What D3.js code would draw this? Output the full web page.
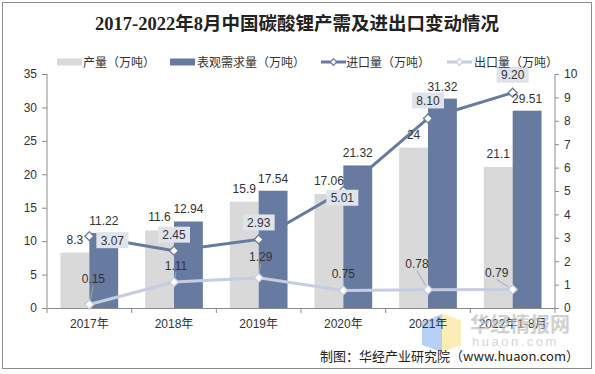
<!DOCTYPE html>
<html>
<head>
<meta charset="utf-8">
<script src="https://cdn.jsdelivr.net/npm/d3@7/dist/d3.min.js"></script>
<style>
  html, body { margin: 0; padding: 0; background: #fff; }
  svg { display: block; font-family: "Liberation Sans", Arial, "Noto Sans CJK SC", sans-serif; }
</style>
</head>
<body>
<svg id="chart" width="595" height="374"></svg>
<script>
// chart data
var years = ['2017年', '2018年', '2019年', '2020年', '2021年', '2022年1-8月'];
var production = [8.3, 11.6, 15.9, 17.06, 24, 21.1];
var demand = [11.22, 12.94, 17.54, 21.32, 31.32, 29.51];
var imports = [3.07, 2.45, 2.93, 5.01, 8.10, 9.20];
var exportsQty = [0.15, 1.11, 1.29, 0.75, 0.78, 0.79];
var leftTicks = [0, 5, 10, 15, 20, 25, 30, 35];
var rightTicks = [0, 1, 2, 3, 4, 5, 6, 7, 8, 9, 10];
var legendNames = ['产量（万吨）', '表观需求量（万吨）', '进口量（万吨）', '出口量（万吨）'];

// label nudges (pixels), as placed in the original
var importLabelShift = [[23, 4], [0, -16], [0, -17], [-1, 7], [0, -18], [0, -18]];
var exportLabelShift = [[4, -26], [2, -17], [2, -21], [0, -17], [-11, -26], [-16, -17]];

var C = {
    prod: '#d9d9d9',
    demand: '#677aa0',
    imp: '#677aa0',
    exp: '#c6cde0',
    axis: '#8c8c8c',
    text: '#333'
};

var svg = d3.select('#chart');
var plot = { left: 47, right: 555, top: 74, bottom: 308 };

// frame
svg.append('rect')
    .attr('x', 2.5).attr('y', 2.5)
    .attr('width', 589).attr('height', 366)
    .attr('fill', '#fff')
    .attr('stroke', '#8c8c8c');

svg.append('text')
    .attr('x', 297).attr('y', 29.5)
    .attr('text-anchor', 'middle')
    .attr('font-family', '"Liberation Serif", "Noto Sans CJK SC", serif')
    .attr('font-weight', 'bold')
    .attr('font-size', 18.5)
    .attr('fill', '#222')
    .text('2017-2022年8月中国碳酸锂产需及进出口变动情况');

var x0 = d3.scaleBand().domain(years).range([plot.left, plot.right]).padding(0);
var x1 = d3.scaleBand().domain(['prod', 'demand'])
    .range([0, x0.bandwidth()]).paddingInner(0).paddingOuter(0.467);
var yL = d3.scaleLinear().domain([0, 35]).range([plot.bottom, plot.top]);
var yR = d3.scaleLinear().domain([0, 10]).range([plot.bottom, plot.top]);
var cx = function (i) { return x0(years[i]) + x0.bandwidth() / 2; };

// watermark logo (behind everything)
var wm = svg.append('g').attr('class', 'watermark');
wm.append('polygon')
    .attr('points', '422,322 442,314 442,352 422,345')
    .attr('fill', '#a9c9f3').attr('opacity', 0.85);
wm.append('polygon')
    .attr('points', '442,314 461,320 461,345 442,352')
    .attr('fill', '#fbeaa9').attr('opacity', 0.85);

// bars
var groups = svg.append('g').selectAll('g')
    .data(years)
    .join('g')
    .attr('transform', function (d) { return 'translate(' + x0(d) + ',0)'; });

groups.append('rect')
    .attr('x', x1('prod'))
    .attr('width', x1.bandwidth())
    .attr('y', function (d, i) { return yL(production[i]); })
    .attr('height', function (d, i) { return yL(0) - yL(production[i]); })
    .attr('fill', C.prod);

groups.append('rect')
    .attr('x', x1('demand'))
    .attr('width', x1.bandwidth())
    .attr('y', function (d, i) { return yL(demand[i]); })
    .attr('height', function (d, i) { return yL(0) - yL(demand[i]); })
    .attr('fill', C.demand);

// axes
var axL = svg.append('g')
    .attr('transform', 'translate(' + plot.left + ',0)')
    .call(d3.axisLeft(yL).tickValues(leftTicks).tickSize(5).tickPadding(5));
var axR = svg.append('g')
    .attr('transform', 'translate(' + plot.right + ',0)')
    .call(d3.axisRight(yR).tickValues(rightTicks).tickSize(4).tickPadding(5));
var axB = svg.append('g')
    .attr('transform', 'translate(0,' + plot.bottom + ')')
    .call(d3.axisBottom(x0).tickSize(0).tickPadding(11));

axB.append('g').selectAll('line')
    .data(d3.range(years.length + 1))
    .join('line')
    .attr('x1', function (i) { return plot.left + i * x0.step(); })
    .attr('x2', function (i) { return plot.left + i * x0.step(); })
    .attr('y1', 0).attr('y2', 5)
    .attr('stroke', C.axis);

[axL, axR, axB].forEach(function (ax) {
    ax.select('.domain').attr('stroke', C.axis);
    ax.selectAll('.tick line').attr('stroke', C.axis);
    ax.selectAll('text')
        .attr('fill', C.text)
        .attr('font-size', 12)
        .attr('font-family', '"Liberation Sans", Arial, "Noto Sans CJK SC", sans-serif');
});
axL.select('.domain').attr('d', 'M0,' + plot.top + 'V' + plot.bottom);
axR.select('.domain').attr('d', 'M0,' + plot.top + 'V' + plot.bottom);

// lines
function drawSeries(values, scale, color) {
    var line = d3.line()
        .x(function (d, i) { return cx(i); })
        .y(function (d) { return scale(d); });
    svg.append('path')
        .datum(values)
        .attr('d', line)
        .attr('fill', 'none')
        .attr('stroke', color)
        .attr('stroke-width', 3);
}

function drawMarkers(values, scale, color) {
    svg.append('g').selectAll('path')
        .data(values)
        .join('path')
        .attr('d', d3.symbol(d3.symbolSquare, 40))
        .attr('transform', function (d, i) {
            return 'translate(' + cx(i) + ',' + scale(d) + ') rotate(45)';
        })
        .attr('fill', '#fff')
        .attr('stroke', color)
        .attr('stroke-width', 1.3);
}

drawSeries(exportsQty, yR, C.exp);
drawMarkers(exportsQty, yR, C.exp);
drawSeries(imports, yR, C.imp);
drawMarkers(imports, yR, C.imp);

// data labels
var labels = svg.append('g')
    .attr('font-size', 12)
    .attr('fill', C.text)
    .attr('text-anchor', 'middle');

years.forEach(function (d, i) {
    labels.append('text')
        .attr('x', x0(d) + x1('prod') + x1.bandwidth() / 2)
        .attr('y', yL(production[i]) - 9)
        .text(production[i]);
    labels.append('text')
        .attr('x', x0(d) + x1('demand') + x1.bandwidth() / 2)
        .attr('y', yL(demand[i]) - 8)
        .text(demand[i]);
});

var f2 = d3.format('.2f');

// export labels with leader lines
exportsQty.forEach(function (v, i) {
    var px = cx(i), py = yR(v);
    var lx = px + exportLabelShift[i][0], ly = py + exportLabelShift[i][1];
    var bx = lx, by = ly + 7;
    var dx = px - bx, dy = py - by, len = Math.sqrt(dx * dx + dy * dy);
    if (len > 7) {
        svg.append('line')
            .attr('x1', bx).attr('y1', by)
            .attr('x2', px - dx / len * 5).attr('y2', py - dy / len * 5)
            .attr('stroke', '#a6a6a6').attr('stroke-width', 1);
    }
    labels.append('text')
        .attr('x', lx).attr('y', ly + 4.5)
        .text(f2(v));
});

// import labels in boxes
var boxes = svg.append('g');
imports.forEach(function (v, i) {
    var lx = cx(i) + importLabelShift[i][0], ly = yR(v) + importLabelShift[i][1];
    boxes.append('rect')
        .attr('x', lx - 16).attr('y', ly - 8)
        .attr('width', 32).attr('height', 16)
        .attr('fill', '#dfe3eb');
    boxes.append('text')
        .attr('x', lx).attr('y', ly + 4.5)
        .attr('text-anchor', 'middle')
        .attr('font-size', 12)
        .attr('fill', C.text)
        .text(f2(v));
});

// legend
var legend = svg.append('g').attr('font-size', 12).attr('fill', C.text);
var legendX = [57, 170, 321, 447];
var legendTextX = [83, 197, 346, 474];
var ly0 = 62;
legend.append('rect').attr('x', legendX[0]).attr('y', ly0 - 3.5).attr('width', 25).attr('height', 7).attr('fill', C.prod);
legend.append('rect').attr('x', legendX[1]).attr('y', ly0 - 3.5).attr('width', 25).attr('height', 7).attr('fill', C.demand);
[[legendX[2], C.imp], [legendX[3], C.exp]].forEach(function (it) {
    legend.append('line')
        .attr('x1', it[0]).attr('x2', it[0] + 25)
        .attr('y1', ly0).attr('y2', ly0)
        .attr('stroke', it[1]).attr('stroke-width', 3);
    legend.append('path')
        .attr('d', d3.symbol(d3.symbolSquare, 22))
        .attr('transform', 'translate(' + (it[0] + 12.5) + ',' + ly0 + ') rotate(45)')
        .attr('fill', '#fff').attr('stroke', it[1]).attr('stroke-width', 1.2);
});
legendNames.forEach(function (name, i) {
    legend.append('text')
        .attr('x', legendTextX[i]).attr('y', ly0 + 4.5)
        .attr('font-family', '"Noto Sans CJK SC", sans-serif')
        .text(name);
});

// watermark text and source
svg.append('text')
    .attr('x', 470).attr('y', 332)
    .attr('font-family', '"Noto Sans CJK SC", sans-serif')
    .attr('font-weight', 'bold')
    .attr('font-size', 20)
    .attr('fill', '#bdbdbd')
    .attr('opacity', 0.7)
    .text('华经情报网');
svg.append('text')
    .attr('x', 472).attr('y', 346)
    .attr('font-size', 13)
    .attr('letter-spacing', 2.5)
    .attr('fill', '#d6d6d6')
    .text('huaon.com');

svg.append('text')
    .attr('x', 579).attr('y', 361)
    .attr('text-anchor', 'end')
    .attr('font-size', 13)
    .attr('fill', '#222')
    .attr('font-family', '"Noto Sans CJK SC", "Liberation Sans", sans-serif')
    .text('制图：华经产业研究院（www.huaon.com）');
</script>
</body>
</html>
